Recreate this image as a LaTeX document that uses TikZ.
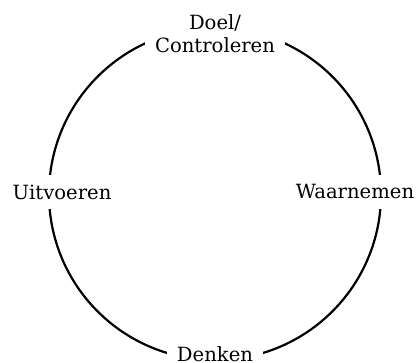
\documentclass[tikz,border=0pt]{standalone}
\usepackage{fontspec}
\setmainfont{DejaVu Serif}
\usepackage{tikz}
\usetikzlibrary{positioning}

\begin{document}
\begin{tikzpicture}[x=0.5pt, y=0.5pt,
    stage/.style={fill=white, inner sep=5pt, align=center,
        font=\fontsize{9.8}{11.5}\selectfont},
    cycle/.style={line width=1.1pt, black}
]
    \useasboundingbox (0,0) rectangle (418,363);
    \coordinate (hub) at (215,169);
    \draw[cycle] (hub) circle[radius=166];

    \node[stage] (doel) at (215,329) {Doel/\\Controleren};
    \node[stage] (waar) at (355,171) {Waarnemen};
    \node[stage] (denk) at (215,9) {Denken};
    \node[stage] (uitv) at (62,171) {Uitvoeren};
\end{tikzpicture}
\end{document}
